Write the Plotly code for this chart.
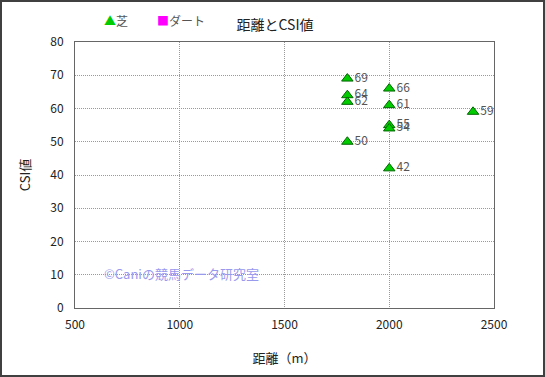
import plotly.graph_objects as go

turf_dist = [1800, 1800, 1800, 1800, 2000, 2000, 2000, 2000, 2000, 2400]
turf_csi = [69, 64, 62, 50, 66, 61, 55, 54, 42, 59]
dirt_dist = [None]
dirt_csi = [None]
x_ticks = [500, 1000, 1500, 2000, 2500]
y_ticks = [0, 10, 20, 30, 40, 50, 60, 70, 80]
series_names = ["芝", "ダート"]

FONT = "Noto Sans CJK JP, sans-serif"
W, H = 545, 377
L, R, T, B = 75, 51, 42, 69
pw, ph = W - L - R, H - T - B
TURF_COLOR = "#00cc00"
DIRT_COLOR = "#ff00ff"
GRID = dict(showgrid=True, gridcolor="#999999", griddash="1px,1px", gridwidth=1)

fig = go.Figure()
fig.add_trace(go.Scatter(
    x=turf_dist, y=turf_csi, mode="markers+text", name=series_names[0],
    text=[str(v) for v in turf_csi], textposition="middle right",
    textfont=dict(color="#555555", size=12, family=FONT),
    marker=dict(symbol="triangle-up", size=10, color=TURF_COLOR,
                line=dict(color="#006600", width=1)),
    cliponaxis=False,
))
fig.add_trace(go.Scatter(
    x=dirt_dist, y=dirt_csi, mode="markers", name=series_names[1],
    marker=dict(symbol="square", size=9, color=DIRT_COLOR),
))

fig.update_layout(
    width=W, height=H,
    showlegend=False,
    margin=dict(l=L, r=R, t=T, b=B, autoexpand=False),
    plot_bgcolor="white", paper_bgcolor="white",
    font=dict(family=FONT, size=12, color="#222222"),
    title=dict(text="距離とCSI値", x=275 / W, xanchor="center",
               y=1 - 25 / H, yanchor="middle",
               font=dict(size=14, color="#222222", family=FONT)),
    xaxis=dict(range=[500, 2500], tickvals=x_ticks, ticks="", **GRID,
               showline=True, linecolor="#666666", linewidth=1, mirror=True,
               zeroline=False, automargin=False, ticklabelstandoff=6,
               title=dict(text="距離（m）", font=dict(size=13, family=FONT), standoff=22),
               tickfont=dict(size=12, color="#222222")),
    yaxis=dict(range=[0, 80], tickvals=y_ticks, ticks="", **GRID,
               showline=True, linecolor="#666666", linewidth=1, mirror=True,
               zeroline=False, automargin=False, ticklabelstandoff=8,
               title=dict(text="CSI値", font=dict(size=13, family=FONT), standoff=16),
               tickfont=dict(size=12, color="#222222")),
)

# legend drawn as text entries (colored glyph + series name)
legend_items = [("▲", TURF_COLOR, series_names[0], 102), ("■", DIRT_COLOR, series_names[1], 155)]
for glyph, col, name, px in legend_items:
    fig.add_annotation(
        text=f"<span style='color:{col}'>{glyph}</span>{name}",
        xref="paper", yref="paper",
        x=(px - L) / pw, y=1 + (T - 20) / ph, xanchor="left", yanchor="middle",
        showarrow=False, font=dict(size=12, color="#555555", family=FONT),
    )

fig.add_annotation(
    text="©Caniの競馬データ研究室", xref="paper", yref="paper",
    x=(102 - L) / pw, y=(T + ph - 273) / ph, xanchor="left", yanchor="middle",
    showarrow=False, font=dict(size=13, color="#9999ee", family=FONT),
)

fig.add_shape(
    type="rect", xref="paper", yref="paper",
    x0=-(L - 1) / pw, x1=(W - 1 - L) / pw,
    y0=-(B - 1) / ph, y1=1 + (T - 1) / ph,
    line=dict(color="#404040", width=2), fillcolor="rgba(0,0,0,0)", layer="below",
)

fig.write_html("out.html", config={"displayModeBar": False},
               post_script="document.body.style.margin='0';")
